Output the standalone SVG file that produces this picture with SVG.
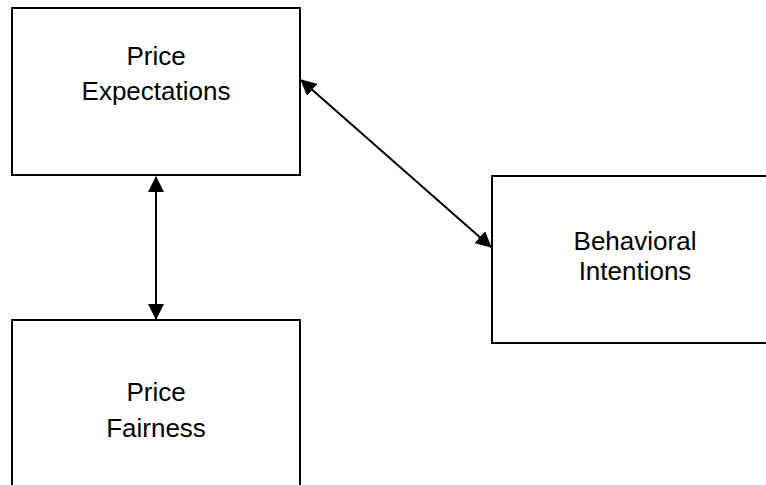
<svg xmlns="http://www.w3.org/2000/svg" width="766" height="485" viewBox="0 0 766 485">
<style>
.box{fill:#fff;stroke:#000;stroke-width:2}
.lbl{font-family:"Liberation Sans",Arial,sans-serif;font-size:26px;fill:#000;text-anchor:middle}
.conn{stroke:#000;stroke-width:2;fill:none}
</style>
<defs>
<marker id="ah" markerUnits="userSpaceOnUse" markerWidth="16" markerHeight="16" viewBox="0 0 16 16" refX="15" refY="8" orient="auto-start-reverse">
<path d="M0,0 L16,8 L0,16 z" fill="#000"/>
</marker>
</defs>
<rect width="766" height="485" fill="#fff"/>
<g id="price-expectations">
<rect class="box" x="12" y="8" width="288" height="167"/>
<text class="lbl" x="156" y="65">Price</text>
<text class="lbl" x="156" y="100">Expectations</text>
</g>
<g id="behavioral-intentions">
<rect class="box" x="492" y="176" width="290" height="167"/>
<text class="lbl" x="635" y="250">Behavioral</text>
<text class="lbl" x="635" y="280">Intentions</text>
</g>
<g id="price-fairness">
<rect class="box" x="12" y="320" width="288" height="180"/>
<text class="lbl" x="156" y="401">Price</text>
<text class="lbl" x="156" y="437">Fairness</text>
</g>
<g id="connectors">
<line class="conn" x1="156" y1="177" x2="156" y2="319" marker-start="url(#ah)" marker-end="url(#ah)"/>
<line class="conn" x1="301" y1="80" x2="491" y2="247" marker-start="url(#ah)" marker-end="url(#ah)"/>
</g>
</svg>
